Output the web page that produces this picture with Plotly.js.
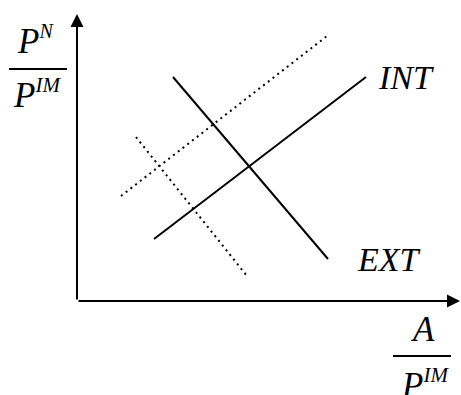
<!DOCTYPE html>
<html>
<head>
<meta charset="utf-8">
<script src="https://cdn.plot.ly/plotly-3.0.1.min.js"></script>
<style>
  html, body { margin: 0; padding: 0; background: #fff; }
  #chart { width: 461px; height: 395px; }
</style>
</head>
<body>
<div id="chart"></div>
<script>
  // INT / EXT schedules, shifted (dotted) versions
  const intX = [77, 289];
  const intY = [62, 224];
  const extX = [96, 251];
  const extY = [224, 42];
  const intShiftX = [44, 250];
  const intShiftY = [105, 265];
  const extShiftX = [59, 170];
  const extShiftY = [164, 25];

  const SERIF = 'Liberation Serif';
  const INK = '#000';

  const solid = { color: INK, width: 2 };
  const dotted = { color: INK, width: 2, dash: '2px,4px' };

  const traces = [
    { x: intX, y: intY, line: solid, name: 'INT' },
    { x: extX, y: extY, line: solid, name: 'EXT' },
    { x: intShiftX, y: intShiftY, line: dotted, name: 'INT shifted' },
    { x: extShiftX, y: extShiftY, line: dotted, name: 'EXT shifted' },
  ].map((t) => ({ type: 'scatter', mode: 'lines', hoverinfo: 'skip', ...t }));

  function label(text, x, y, size, ref) {
    return {
      text, x, y,
      xref: ref ? 'paper' : 'x', yref: ref ? 'paper' : 'y',
      showarrow: false, xanchor: 'center', yanchor: 'middle',
      font: { family: SERIF, size, color: INK, style: 'italic' },
    };
  }

  // axis arrows
  const axisArrow = (x, y, ax, ay) => ({
    x, y, xref: 'paper', yref: 'paper', ax, ay, text: '',
    showarrow: true, arrowhead: 2, arrowsize: 1.3, arrowwidth: 2,
    arrowcolor: INK, standoff: 0,
  });

  const fractionBar = (x0, x1, y) => ({
    type: 'line', xref: 'paper', yref: 'paper',
    x0, x1, y0: y, y1: y, line: { color: INK, width: 2 },
  });

  const layout = {
    width: 461,
    height: 395,
    margin: { l: 77, r: 0, t: 14, b: 94 },
    paper_bgcolor: '#fff',
    plot_bgcolor: '#fff',
    showlegend: false,
    xaxis: { range: [0, 384], visible: false, fixedrange: true },
    yaxis: { range: [0, 287], visible: false, fixedrange: true },
    annotations: [
      axisArrow(0, 1, 0, 287),
      axisArrow(1, 0, -384, 0),
      label('INT', 329, 224, 34),
      label('EXT', 312, 42, 34),
      label('P<sup><span style="font-size:20px">N</span></sup>', -0.108, 0.907, 35, true),
      label('P<sup><span style="font-size:21px">IM</span></sup>', -0.105, 0.72, 35, true),
      label('A', 0.9, -0.1, 35, true),
      label('P<sup><span style="font-size:21px">IM</span></sup>', 0.905, -0.29, 35, true),
    ],
    shapes: [
      fractionBar(-0.177, -0.026, 0.808),
      fractionBar(0.823, 0.974, -0.192),
    ],
  };

  Plotly.newPlot('chart', traces, layout, { displayModeBar: false, staticPlot: true });
</script>
</body>
</html>
